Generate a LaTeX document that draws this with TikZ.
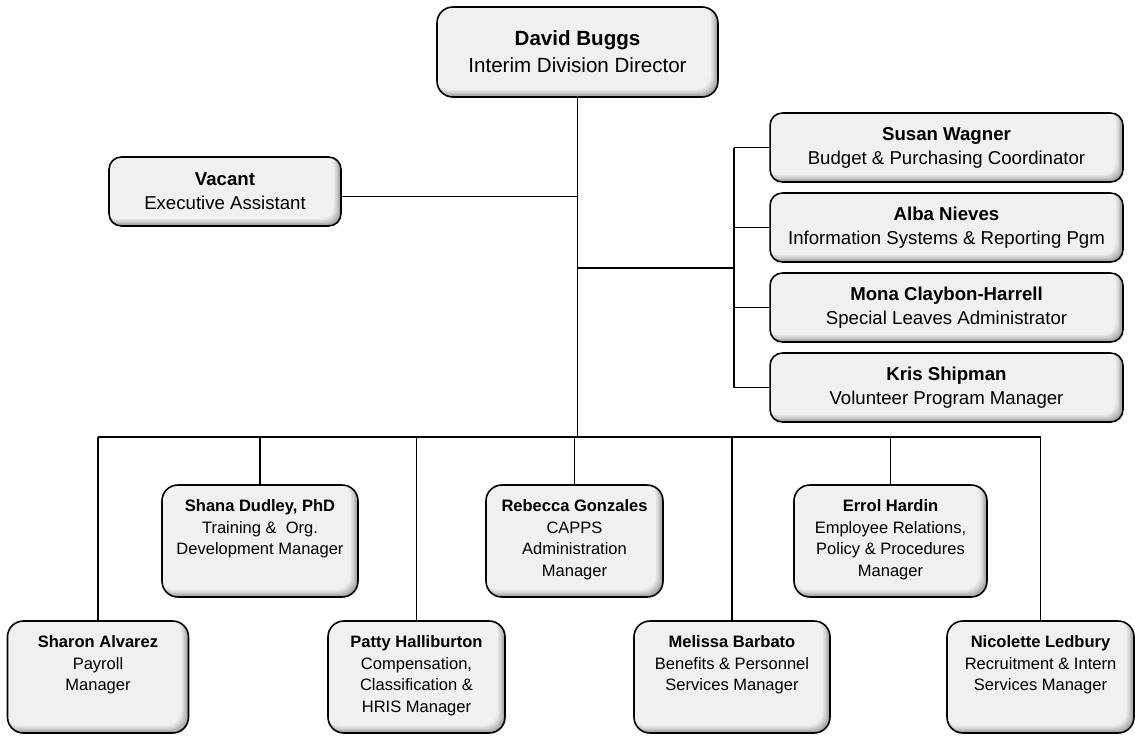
\documentclass[tikz,border=0pt]{standalone}
\usepackage{fontspec}
\setmainfont{Liberation Sans}
\usetikzlibrary{positioning,calc}
\newcommand{\staff}[2]{\parbox[c][2.24cm][t]{3.4cm}{\centering\rule{0pt}{15.3pt}\textbf{#1}\\#2}}

\begin{document}
\begin{tikzpicture}[
    x=0.02cm, y=-0.02cm,
    box/.style={draw, line width=0.9pt, rounded corners=7pt, inner sep=0pt, fill=gray!75, align=center,
        path picture={\foreach \s/\c in {0.8/60,1.6/46,2.4/33,3.2/21,4/12}
            \fill[gray!\c] ([xshift=-2pt,yshift=2pt]path picture bounding box.north west) rectangle ([xshift=-\s*1pt,yshift=\s*1pt]path picture bounding box.south east);}},
    head/.style={box, minimum width=5.62cm, minimum height=1.8cm, rounded corners=9pt, font=\fontsize{11.7}{15.3}\selectfont},
    staffbox/.style={box, minimum width=7.06cm, minimum height=1.38cm, font=\fontsize{10.6}{13.6}\selectfont},
    mgr/.style={box, minimum height=2.24cm, rounded corners=9pt, font=\fontsize{9.4}{12.2}\selectfont},
    link/.style={line width=0.8pt}
]
    \useasboundingbox (0,0) rectangle (1135,735);

    % Director
    \node[head] (dir) at (577.5,52) {\textbf{David Buggs}\\Interim Division Director};

    % Executive assistant
    \node[staffbox, minimum width=4.64cm] (vacant) at (225,191.5) {\textbf{Vacant}\\Executive Assistant};

    % Staff on the right
    \node[staffbox] (susan) at (946.5,147.5) {\textbf{Susan Wagner}\\Budget \& Purchasing Coordinator};
    \node[staffbox] (alba) at (946.5,227.5) {\textbf{Alba Nieves}\\Information Systems \& Reporting Pgm};
    \node[staffbox] (mona) at (946.5,307.5) {\textbf{Mona Claybon-Harrell}\\Special Leaves Administrator};
    \node[staffbox] (kris) at (946.5,387.5) {\textbf{Kris Shipman}\\Volunteer Program Manager};

    % Managers, upper row
    \node[mgr, minimum width=3.92cm] (shana) at (260,541) {\staff{Shana Dudley, PhD}{Training \& ~Org.\\Development Manager}};
    \node[mgr, minimum width=3.54cm] (rebecca) at (574.5,541) {\staff{Rebecca Gonzales}{CAPPS\\Administration\\Manager}};
    \node[mgr, minimum width=3.86cm] (errol) at (890.5,541) {\staff{Errol Hardin}{Employee Relations,\\Policy \& Procedures\\Manager}};

    % Managers, lower row
    \node[mgr, minimum width=3.62cm] (sharon) at (98,677) {\staff{Sharon Alvarez}{Payroll\\Manager}};
    \node[mgr, minimum width=3.54cm] (patty) at (416.5,677) {\staff{Patty Halliburton}{Compensation,\\Classification \&\\HRIS Manager}};
    \node[mgr, minimum width=3.92cm] (melissa) at (732,677) {\staff{Melissa Barbato}{Benefits \& Personnel\\Services Manager}};
    \node[mgr, minimum width=3.74cm] (nicolette) at (1040.5,677) {\staff{Nicolette Ledbury}{Recruitment \& Intern\\Services Manager}};

    % Connectors
    \coordinate (bus) at (578,437);
    \coordinate (brk) at (734,268);
    \coordinate (va) at ([yshift=-0.1cm]vacant.east);
    \draw[link] (dir.south) -- (dir.south |- bus);
    \draw[link] (va) -- (va -| dir.south);
    \draw[link] (brk -| dir.south) -- (brk);
    \draw[link] (susan.west -| brk) -- (kris.west -| brk);
    \foreach \n in {susan,alba,mona,kris}
        \draw[link] (\n.west -| brk) -- (\n.west);
    \draw[link] (bus -| sharon.north) -- (bus -| nicolette.north);
    \foreach \n in {sharon,shana,patty,rebecca,melissa,errol,nicolette}
        \draw[link] (bus -| \n.north) -- (\n.north);
\end{tikzpicture}
\end{document}
